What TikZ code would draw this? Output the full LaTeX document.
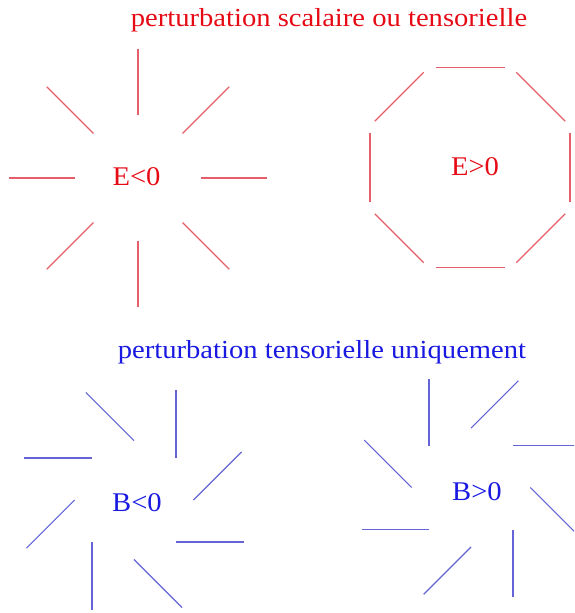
\documentclass[tikz,border=0pt]{standalone}
\usepackage{fontspec}
\setmainfont{Liberation Serif}
\usetikzlibrary{calc}
\definecolor{redline}{RGB}{228,95,105}
\definecolor{blueline}{RGB}{100,100,215}
\definecolor{redtext}{RGB}{230,10,20}
\definecolor{bluetext}{RGB}{25,25,225}
\tikzset{
  rseg/.style={draw=redline, line width=1.2pt},
  bseg/.style={draw=blueline, line width=1.2pt},
  title/.style={anchor=base, inner sep=0pt, xscale=1.1, font=\fontsize{26}{30}\selectfont},
  label/.style={anchor=base, inner sep=0pt, xscale=1.06, font=\fontsize{27}{31}\selectfont},
}
\begin{document}
\begin{tikzpicture}[x=1pt, y=-1pt]
  \useasboundingbox (0,0) rectangle (574,613);
  \clip (0,0) rectangle (574,613);

  % centres of the four patterns
  \coordinate (eneg) at (138,178);
  \coordinate (epos) at (470,167.5);
  \coordinate (bneg) at (134,500);
  \coordinate (bpos) at (471,487.5);

  % headings
  \node[title, text=redtext]  (t1) at (329,26)  {perturbation scalaire ou tensorielle};
  \node[title, text=bluetext] (t2) at (322,358) {perturbation tensorielle uniquement};

  % E<0 : radial segments
  \foreach \a in {0,45,...,315}
    \draw[rseg] ($(eneg)+(\a:63)$) -- ($(eneg)+(\a:129)$);
  \node[label, text=redtext] (le) at (136.5,185) {E<0};

  % E>0 : tangential segments forming a broken octagon
  \foreach \a in {0,45,...,315}
    \draw[rseg] ($(epos)+(\a:100)+(\a+90:34.5)$) -- ($(epos)+(\a:100)+(\a-90:34.5)$);
  \node[label, text=redtext] (ge) at (475,175) {E>0};

  % B<0 : radial segments shifted one way
  \foreach \a in {0,45,...,315}
    \draw[bseg] ($(bneg)+(\a:42)+(\a+90:42)$) -- ($(bneg)+(\a:110)+(\a+90:42)$);
  \node[label, text=bluetext] (lb) at (137,511) {B<0};

  % B>0 : radial segments shifted the other way
  \foreach \a in {0,45,...,315}
    \draw[bseg] ($(bpos)+(\a:42)+(\a-90:42)$) -- ($(bpos)+(\a:109)+(\a-90:42)$);
  \node[label, text=bluetext] (gb) at (477,500) {B>0};
\end{tikzpicture}
\end{document}
